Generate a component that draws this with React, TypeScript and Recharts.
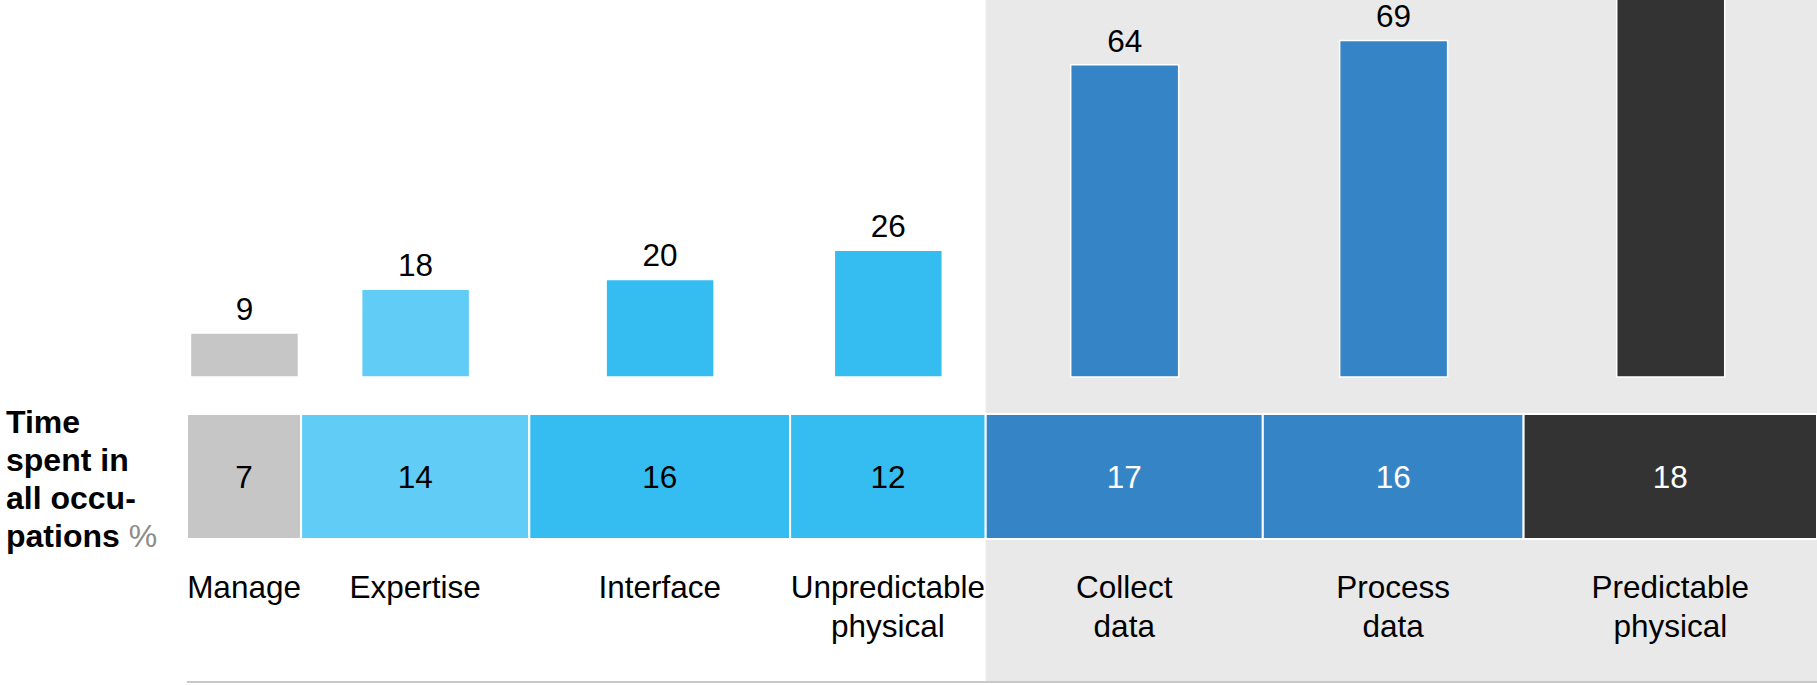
import {
  ComposedChart,
  Bar,
  Cell,
  LabelList,
  XAxis,
  YAxis,
  ReferenceArea,
} from "recharts";

// automation potential per activity type, %
const categories = [
  "Manage",
  "Expertise",
  "Interface",
  "Unpredictable physical",
  "Collect data",
  "Process data",
  "Predictable physical",
];
const labelLines = [
  ["Manage"],
  ["Expertise"],
  ["Interface"],
  ["Unpredictable", "physical"],
  ["Collect", "data"],
  ["Process", "data"],
  ["Predictable", "physical"],
];
const automationPotential = [9, 18, 20, 26, 64, 69, 81];
const timeSpent = [7, 14, 16, 12, 17, 16, 18];

const fills = ["#c6c6c6", "#61cdf6", "#35bdf2", "#35bdf2", "#3585c6", "#3585c6", "#333333"];
const stripText = ["#000", "#000", "#000", "#000", "#fff", "#fff", "#fff"];

// first activity of the shaded ("highly automatable") group
const shadedFrom = 4;

const FONT = "'Liberation Sans', Arial, Helvetica, sans-serif";
const Y_MAX = 90;
const Y_MIN = -62.53;
const STRIP_TOP = -7.6;
const STRIP_BOTTOM = -33.2;

interface Row {
  name: string;
  value: number;
  time: number;
  start: number;
  end: number;
  mid: number;
}

const data: Row[] = [];
let acc = 0;
categories.forEach((name, i) => {
  const start = acc;
  acc += timeSpent[i];
  data.push({
    name,
    value: automationPotential[i],
    time: timeSpent[i],
    start,
    end: acc,
    mid: (start + acc) / 2,
  });
});

function CategoryTick(props: any) {
  const { x, y, payload } = props;
  const idx = data.findIndex((d) => Math.abs(d.mid - payload.value) < 1e-6);
  const lines = idx >= 0 ? labelLines[idx] : [];
  return (
    <g>
      {lines.map((line, i) => (
        <text
          key={line}
          x={x}
          y={y - 84 + i * 39}
          textAnchor="middle"
          fontSize={31.5}
          fontFamily={FONT}
          fill="#000"
        >
          {line}
        </text>
      ))}
    </g>
  );
}

export default function App() {
  return (
    <div
      style={{
        position: "absolute",
        left: 0,
        top: 0,
        width: 1817,
        height: 685,
        overflow: "hidden",
        background: "#fff",
      }}
    >
      <div style={{ position: "absolute", left: 0, top: -62 }}>
        <ComposedChart
          width={1817}
          height={747}
          data={data}
          margin={{ top: 0, right: 0, bottom: 1, left: 187 }}
        >
          <XAxis
            type="number"
            dataKey="mid"
            domain={[0, 100]}
            ticks={data.map((d) => d.mid)}
            interval={0}
            height={2}
            tickSize={0}
            tickMargin={0}
            tickLine={false}
            axisLine={{ stroke: "#c8c8c8", strokeWidth: 2 }}
            tick={<CategoryTick />}
          />
          <YAxis type="number" domain={[Y_MIN, Y_MAX]} allowDataOverflow hide width={0} />
          <ReferenceArea
            x1={data[shadedFrom].start}
            x2={100}
            y1={Y_MIN}
            y2={Y_MAX}
            fill="#e9e9e9"
            fillOpacity={1}
            stroke="none"
          />
          {data.map((d, i) => (
            <ReferenceArea
              key={d.name}
              x1={d.start}
              x2={d.end}
              y1={STRIP_BOTTOM}
              y2={STRIP_TOP}
              fill={fills[i]}
              fillOpacity={1}
              stroke="#fff"
              strokeWidth={2}
              label={{
                value: d.time,
                position: "center",
                fill: stripText[i],
                fontSize: 31.5,
                fontFamily: FONT,
              }}
            />
          ))}
          <Bar
            dataKey="value"
            barSize={108}
            stroke="#fff"
            strokeWidth={1.5}
            isAnimationActive={false}
          >
            {data.map((d, i) => (
              <Cell key={d.name} fill={fills[i]} />
            ))}
            <LabelList
              dataKey="value"
              position="top"
              offset={13}
              fill="#000"
              fontSize={31.5}
              fontFamily={FONT}
            />
          </Bar>
        </ComposedChart>
      </div>
      <div
        style={{
          position: "absolute",
          left: 6,
          top: 403,
          fontFamily: FONT,
          fontSize: 32,
          lineHeight: "38px",
          fontWeight: "bold",
          color: "#000",
        }}
      >
        Time
        <br />
        spent in
        <br />
        all occu-
        <br />
        pations <span style={{ color: "#8c8c8c", fontWeight: "normal" }}>%</span>
      </div>
    </div>
  );
}
